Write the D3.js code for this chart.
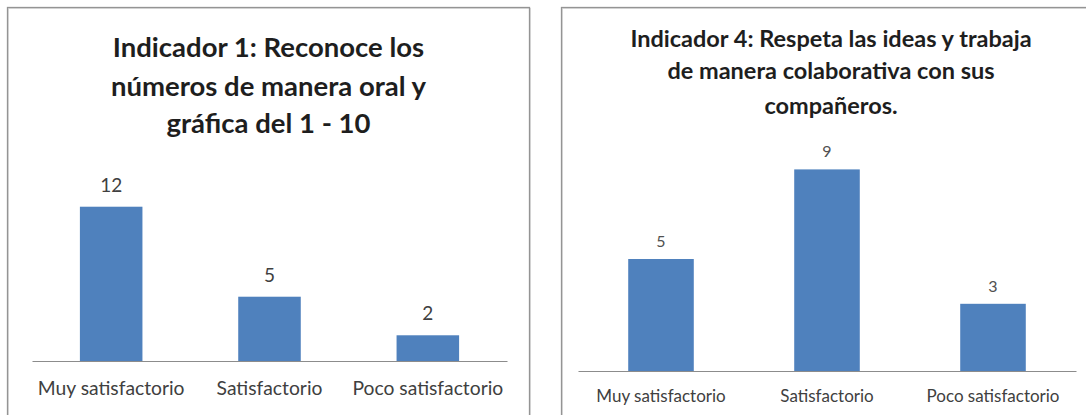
<!DOCTYPE html>
<html>
<head>
<meta charset="utf-8">
<script src="https://cdn.jsdelivr.net/npm/d3@7"></script>
<style>
  html, body { margin: 0; padding: 0; background: #ffffff; }
  svg { display: block; }
</style>
</head>
<body>
<svg id="chart" width="1086" height="415"></svg>
<script>
// ---- Data ----
const categories = ["Muy satisfactorio", "Satisfactorio", "Poco satisfactorio"];
const indicator1Values = [12, 5, 2];
const indicator4Values = [5, 9, 3];
const indicator1Title = ["Indicador 1: Reconoce los", "números de manera oral y", "gráfica del 1 - 10"];
const indicator4Title = ["Indicador 4: Respeta las ideas y trabaja", "de manera colaborativa con sus", "compañeros."];
const indicator1Max = 14;
const indicator4Max = 10;

// ---- Layout ----
const FONT = "Lato, 'Open Sans', 'DejaVu Sans', sans-serif";
const BAR = "#4F81BD";
const svg = d3.select("#chart");

const panels = [
  {
    values: indicator1Values, title: indicator1Title, max: indicator1Max,
    box: {x: 7.5, y: 7.5, w: 522, h: 430},
    xRange: [32, 507], yRange: [361, 181],
    titleSize: 27.5, titleBaselines: [57, 96, 133], titleCx: 268.5,
    valueSize: 19, valueGap: 15, valueColor: "#404040",
    catSize: 19.3, catOffset: 34
  },
  {
    values: indicator4Values, title: indicator4Title, max: indicator4Max,
    box: {x: 561.5, y: 7.5, w: 540, h: 430},
    xRange: [578, 1076], yRange: [371, 147],
    titleSize: 23.5, titleBaselines: [47, 79, 114], titleCx: 831,
    valueSize: 16, valueGap: 12, valueColor: "#505050",
    catSize: 17, catOffset: 31
  }
];

panels.forEach(p => {
  const g = svg.append("g");

  // border box
  g.append("rect")
    .attr("x", p.box.x + 1).attr("y", p.box.y + 1)
    .attr("width", p.box.w).attr("height", p.box.h)
    .attr("fill", "none").attr("stroke", "#dddddd").attr("stroke-width", 1);
  g.append("rect")
    .attr("x", p.box.x).attr("y", p.box.y)
    .attr("width", p.box.w).attr("height", p.box.h)
    .attr("fill", "none").attr("stroke", "#949494").attr("stroke-width", 1.3);

  const x = d3.scaleBand()
    .domain(categories)
    .range(p.xRange)
    .paddingInner(0.605)
    .paddingOuter(0.3025);

  const y = d3.scaleLinear()
    .domain([0, p.max])
    .range(p.yRange);

  const data = categories.map((c, i) => ({cat: c, val: p.values[i]}));

  // bars
  g.selectAll("rect.bar")
    .data(data)
    .join("rect")
    .attr("class", "bar")
    .attr("x", d => x(d.cat))
    .attr("y", d => y(d.val))
    .attr("width", x.bandwidth())
    .attr("height", d => y(0) - y(d.val))
    .attr("fill", BAR);

  // value labels
  g.selectAll("text.val")
    .data(data)
    .join("text")
    .attr("class", "val")
    .attr("x", d => x(d.cat) + x.bandwidth() / 2)
    .attr("y", d => y(d.val) - p.valueGap)
    .attr("text-anchor", "middle")
    .attr("font-family", FONT)
    .attr("font-size", p.valueSize)
    .attr("fill", p.valueColor)
    .text(d => d.val);

  // x axis
  const axis = g.append("g")
    .attr("transform", `translate(0,${y(0)})`)
    .call(d3.axisBottom(x).tickSize(0).tickSizeOuter(0));
  axis.select(".domain").attr("stroke", "#8c8c8c").attr("stroke-width", 1.2);
  axis.selectAll(".tick text")
    .attr("y", p.catOffset).attr("dy", 0)
    .attr("font-family", FONT)
    .attr("font-size", p.catSize)
    .attr("fill", "#404040");

  // title
  g.selectAll("text.title")
    .data(p.title)
    .join("text")
    .attr("class", "title")
    .attr("x", p.titleCx)
    .attr("y", (d, i) => p.titleBaselines[i])
    .attr("text-anchor", "middle")
    .attr("font-family", FONT)
    .attr("font-weight", "bold")
    .attr("font-size", p.titleSize)
    .attr("fill", "#1e1e1e")
    .text(d => d);
});
</script>
</body>
</html>
